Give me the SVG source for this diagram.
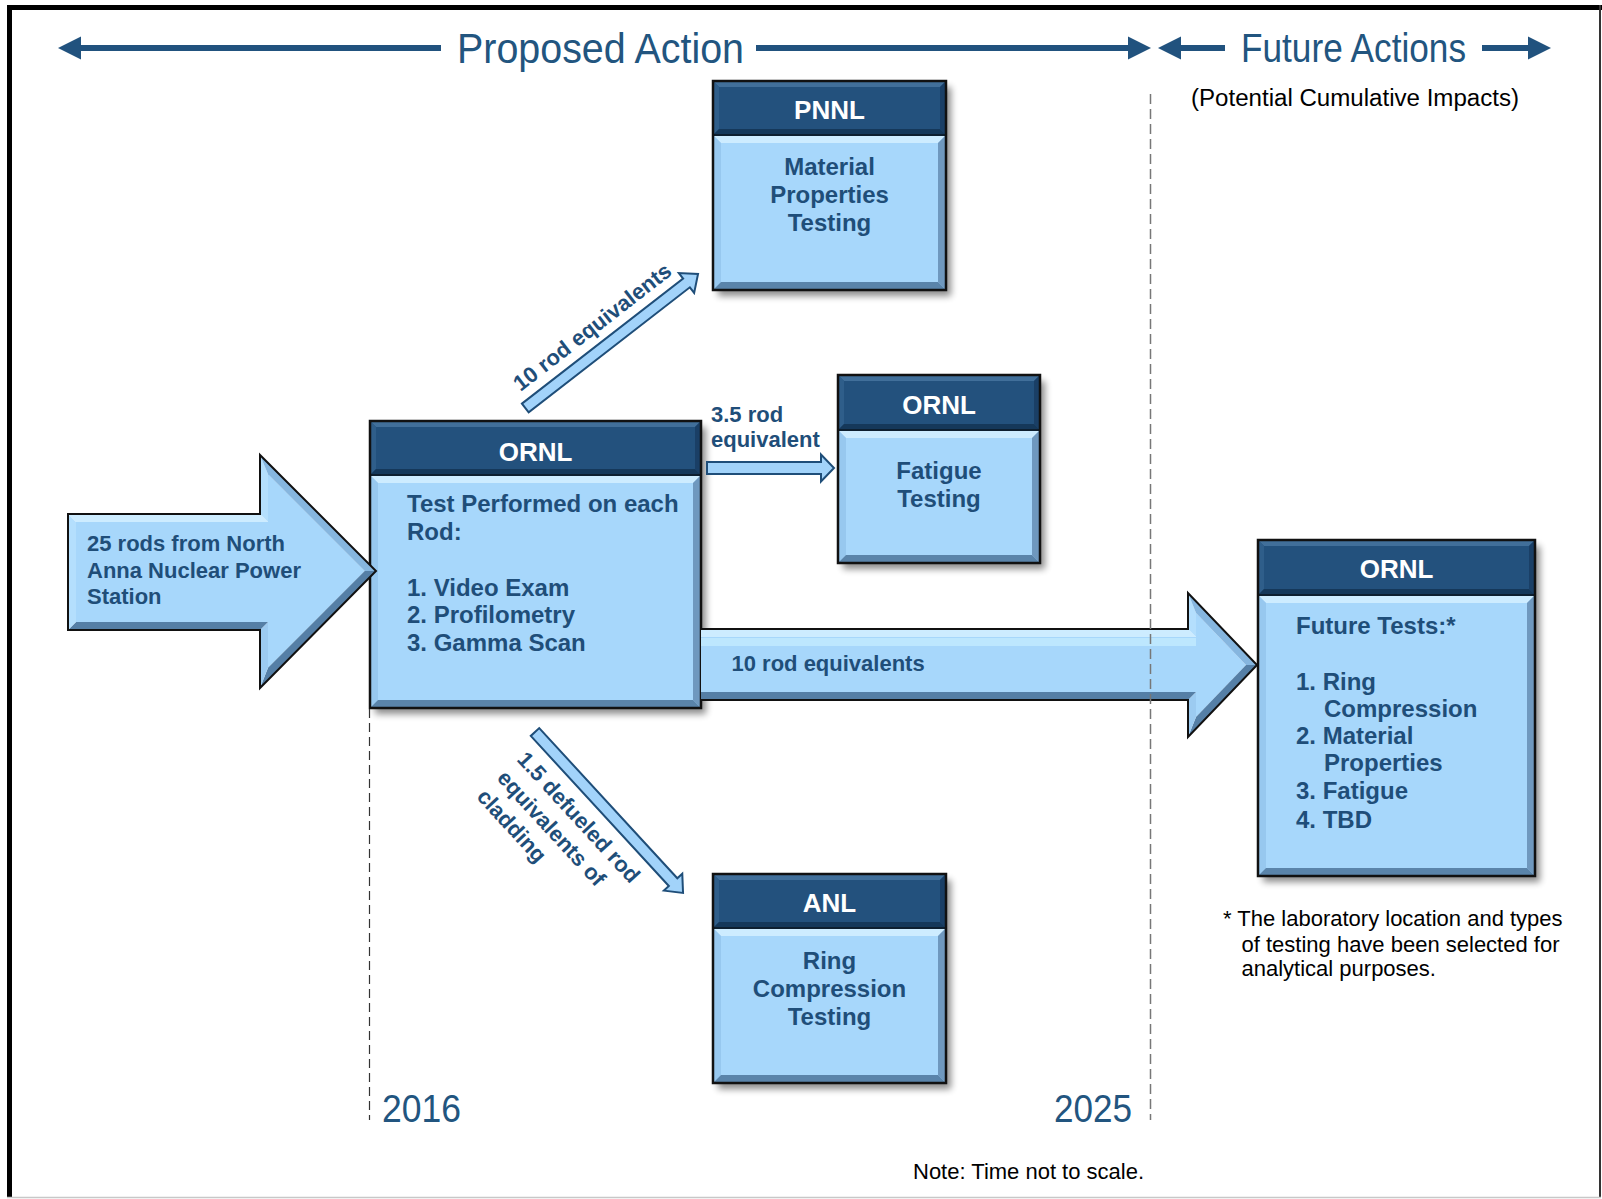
<svg xmlns="http://www.w3.org/2000/svg" width="1602" height="1199" viewBox="0 0 1602 1199">
  <defs>
    <filter id="soft" x="-10%" y="-10%" width="130%" height="130%">
      <feGaussianBlur stdDeviation="3.5"/>
    </filter>
    <style>
      text { font-family: "Liberation Sans", Arial, sans-serif; }
      .shadow { fill: #000; opacity: 0.45; }
      .hdr { fill: #23517d; }
      .body { fill: #a7d7fb; }
      .edge { fill: none; stroke: #111; stroke-width: 2.5; }
      .sep { stroke: #0d1f30; stroke-width: 2; }
      .ht { fill: #416f9a; }
      .hl { fill: #2f5e8a; }
      .hr { fill: #1a3f66; }
      .hb { fill: #15385a; }
      .bt { fill: #cdecff; }
      .bl { fill: #97c8ef; }
      .br { fill: #6f98be; }
      .bb { fill: #5a84aa; }
      .htxt { font-weight: bold; font-size: 26px; fill: #fff; text-anchor: middle; }
      .btxt { font-weight: bold; font-size: 24px; fill: #1f4e79; }
      .mid { text-anchor: middle; }
      .lbl { font-weight: bold; font-size: 22px; fill: #1f4e79; }
      .thin { fill: #a2d3fa; stroke: #1f4e79; stroke-width: 2; stroke-linejoin: miter; }
      .big { fill: #a7d7fb; }
      .bigedge { fill: none; stroke: #111; stroke-width: 2; stroke-linejoin: miter; }
      .f1 { fill: #cdecff; }
      .f2 { fill: #b4dffd; }
      .f3 { fill: #86b6df; }
      .f4 { fill: #557fa6; }
      .f5 { fill: #9ccbf1; }
      .title { fill: #22557f; }
      .tl { fill: #22557f; }
      .note { fill: #000; font-size: 22px; }
    </style>
  </defs>

  <rect x="0" y="0" width="1602" height="1199" fill="#fff"/>

  <!-- frame -->
  <g id="frame">
    <rect x="7" y="5" width="1595" height="5" fill="#000"/>
    <rect x="7" y="5" width="5" height="1193" fill="#000"/>
    <line x1="1600" y1="5" x2="1600" y2="1198" stroke="#333" stroke-width="2"/>
    <line x1="7" y1="1197.5" x2="1601" y2="1197.5" stroke="#c8c8c8" stroke-width="1.5"/>
  </g>

  <!-- time span banner -->
  <g id="banner">
    <g fill="#21527e">
      <rect x="80" y="45" width="361" height="6"/>
      <polygon points="58,48 81,36.5 81,59.5"/>
      <rect x="756" y="45" width="373" height="6"/>
      <polygon points="1151,48 1128,36.5 1128,59.5"/>
      <polygon points="1158,48 1181,36.5 1181,59.5"/>
      <rect x="1180" y="45" width="45" height="6"/>
      <rect x="1482" y="45" width="47" height="6"/>
      <polygon points="1551,48 1528,36.5 1528,59.5"/>
    </g>
    <text class="title" x="457" y="63" font-size="42" textLength="287" lengthAdjust="spacingAndGlyphs">Proposed Action</text>
    <text class="title" x="1241" y="62" font-size="41" textLength="225" lengthAdjust="spacingAndGlyphs">Future Actions</text>
    <text x="1191" y="105.5" font-size="23.5" fill="#000" textLength="328" lengthAdjust="spacingAndGlyphs">(Potential Cumulative Impacts)</text>
  </g>

  <!-- PNNL: material properties -->
  <g id="pnnl">
    <rect class="shadow" x="718" y="87" width="233" height="209" filter="url(#soft)"/>
    <rect class="hdr" x="713" y="81" width="233" height="54"/>
    <polygon class="ht" points="713,81 946,81 940,87 719,87"/>
    <polygon class="hl" points="713,81 719,87 719,129 713,135"/>
    <polygon class="hr" points="946,81 946,135 940,129 940,87"/>
    <polygon class="hb" points="713,135 719,129 940,129 946,135"/>
    <rect class="body" x="713" y="135" width="233" height="155"/>
    <polygon class="bt" points="713,135 946,135 938,143 721,143"/>
    <polygon class="bl" points="713,135 721,143 721,282 713,290"/>
    <polygon class="br" points="946,135 946,290 938,282 938,143"/>
    <polygon class="bb" points="713,290 721,282 938,282 946,290"/>
    <line class="sep" x1="713" y1="135" x2="946" y2="135"/>
    <rect class="edge" x="713" y="81" width="233" height="209"/>
    <text class="htxt" x="829.5" y="119">PNNL</text>
    <text class="btxt mid" x="829.5" y="175">Material</text>
    <text class="btxt mid" x="829.5" y="203">Properties</text>
    <text class="btxt mid" x="829.5" y="231">Testing</text>
  </g>

  <!-- ORNL: examinations on each rod -->
  <g id="ornl-exam">
    <rect class="shadow" x="375" y="427" width="331" height="287" filter="url(#soft)"/>
    <rect class="hdr" x="370" y="421" width="331" height="54"/>
    <polygon class="ht" points="370,421 701,421 695,427 376,427"/>
    <polygon class="hl" points="370,421 376,427 376,469 370,475"/>
    <polygon class="hr" points="701,421 701,475 695,469 695,427"/>
    <polygon class="hb" points="370,475 376,469 695,469 701,475"/>
    <rect class="body" x="370" y="475" width="331" height="233"/>
    <polygon class="bt" points="370,475 701,475 693,483 378,483"/>
    <polygon class="bl" points="370,475 378,483 378,700 370,708"/>
    <polygon class="br" points="701,475 701,708 693,700 693,483"/>
    <polygon class="bb" points="370,708 378,700 693,700 701,708"/>
    <line class="sep" x1="370" y1="475" x2="701" y2="475"/>
    <rect class="edge" x="370" y="421" width="331" height="287"/>
    <text class="htxt" x="535.5" y="460.5">ORNL</text>
    <text class="btxt" x="407" y="512">Test Performed on each</text>
    <text class="btxt" x="407" y="539.5">Rod:</text>
    <text class="btxt" x="407" y="595.5">1. Video Exam</text>
    <text class="btxt" x="407" y="623">2. Profilometry</text>
    <text class="btxt" x="407" y="650.5">3. Gamma Scan</text>
  </g>

  <!-- ORNL: fatigue -->
  <g id="ornl-fatigue">
    <rect class="shadow" x="843" y="381" width="202" height="188" filter="url(#soft)"/>
    <rect class="hdr" x="838" y="375" width="202" height="55"/>
    <polygon class="ht" points="838,375 1040,375 1034,381 844,381"/>
    <polygon class="hl" points="838,375 844,381 844,424 838,430"/>
    <polygon class="hr" points="1040,375 1040,430 1034,424 1034,381"/>
    <polygon class="hb" points="838,430 844,424 1034,424 1040,430"/>
    <rect class="body" x="838" y="430" width="202" height="133"/>
    <polygon class="bt" points="838,430 1040,430 1032,438 846,438"/>
    <polygon class="bl" points="838,430 846,438 846,555 838,563"/>
    <polygon class="br" points="1040,430 1040,563 1032,555 1032,438"/>
    <polygon class="bb" points="838,563 846,555 1032,555 1040,563"/>
    <line class="sep" x1="838" y1="430" x2="1040" y2="430"/>
    <rect class="edge" x="838" y="375" width="202" height="188"/>
    <text class="htxt" x="939" y="414">ORNL</text>
    <text class="btxt mid" x="939" y="479">Fatigue</text>
    <text class="btxt mid" x="939" y="507">Testing</text>
  </g>

  <!-- ANL: ring compression -->
  <g id="anl">
    <rect class="shadow" x="718" y="880" width="233" height="209" filter="url(#soft)"/>
    <rect class="hdr" x="713" y="874" width="233" height="54"/>
    <polygon class="ht" points="713,874 946,874 940,880 719,880"/>
    <polygon class="hl" points="713,874 719,880 719,922 713,928"/>
    <polygon class="hr" points="946,874 946,928 940,922 940,880"/>
    <polygon class="hb" points="713,928 719,922 940,922 946,928"/>
    <rect class="body" x="713" y="928" width="233" height="155"/>
    <polygon class="bt" points="713,928 946,928 938,936 721,936"/>
    <polygon class="bl" points="713,928 721,936 721,1075 713,1083"/>
    <polygon class="br" points="946,928 946,1083 938,1075 938,936"/>
    <polygon class="bb" points="713,1083 721,1075 938,1075 946,1083"/>
    <line class="sep" x1="713" y1="928" x2="946" y2="928"/>
    <rect class="edge" x="713" y="874" width="233" height="209"/>
    <text class="htxt" x="829.5" y="912">ANL</text>
    <text class="btxt mid" x="829.5" y="969">Ring</text>
    <text class="btxt mid" x="829.5" y="997">Compression</text>
    <text class="btxt mid" x="829.5" y="1025">Testing</text>
  </g>

  <!-- ORNL: future tests -->
  <g id="ornl-future">
    <rect class="shadow" x="1263" y="546" width="277" height="336" filter="url(#soft)"/>
    <rect class="hdr" x="1258" y="540" width="277" height="55"/>
    <polygon class="ht" points="1258,540 1535,540 1529,546 1264,546"/>
    <polygon class="hl" points="1258,540 1264,546 1264,589 1258,595"/>
    <polygon class="hr" points="1535,540 1535,595 1529,589 1529,546"/>
    <polygon class="hb" points="1258,595 1264,589 1529,589 1535,595"/>
    <rect class="body" x="1258" y="595" width="277" height="281"/>
    <polygon class="bt" points="1258,595 1535,595 1527,603 1266,603"/>
    <polygon class="bl" points="1258,595 1266,603 1266,868 1258,876"/>
    <polygon class="br" points="1535,595 1535,876 1527,868 1527,603"/>
    <polygon class="bb" points="1258,876 1266,868 1527,868 1535,876"/>
    <line class="sep" x1="1258" y1="595" x2="1535" y2="595"/>
    <rect class="edge" x="1258" y="540" width="277" height="336"/>
    <text class="htxt" x="1396.5" y="578">ORNL</text>
    <text class="btxt" x="1296" y="633.5">Future Tests:*</text>
    <text class="btxt" x="1296" y="689.5">1. Ring</text>
    <text class="btxt" x="1324" y="716.5">Compression</text>
    <text class="btxt" x="1296" y="744">2. Material</text>
    <text class="btxt" x="1324" y="771">Properties</text>
    <text class="btxt" x="1296" y="799">3. Fatigue</text>
    <text class="btxt" x="1296" y="827.5">4. TBD</text>
  </g>

  <!-- rods flowing between laboratories -->
  <g id="connectors">
    <!-- incoming rods (block arrow) -->
    <g id="source-arrow">
      <polygon class="big" points="76,522 268,522 268,474.3 364.7,571 268,667.7 268,622 76,622"/>
      <polygon class="f1" points="68,514 260,514 268,522 76,522"/>
      <polygon class="f2" points="260,514 260,455 268,474.3 268,522"/>
      <polygon class="f3" points="260,455 376,571 364.7,571 268,474.3"/>
      <polygon class="f4" points="376,571 260,688 268,667.7 364.7,571"/>
      <polygon class="f5" points="260,688 260,630 268,622 268,667.7"/>
      <polygon class="f4" points="260,630 68,630 76,622 268,622"/>
      <polygon class="f2" points="68,630 68,514 76,522 76,622"/>
      <polygon class="bigedge" points="68,514 260,514 260,455 376,571 260,688 260,630 68,630"/>
      <text class="lbl" x="87" y="551">25 rods from North</text>
      <text class="lbl" x="87" y="577.5">Anna Nuclear Power</text>
      <text class="lbl" x="87" y="604">Station</text>
    </g>

    <!-- rods kept for future tests (block arrow) -->
    <g id="future-arrow">
      <polygon class="big" points="701,637 1196,637 1196,613 1246,665 1196,717 1196,692 701,692"/>
      <polygon class="f1" points="701,629 1188,629 1196,637 701,637"/>
      <rect x="701" y="638" width="495" height="8" fill="#c6eeff" opacity="0.7"/>
      <polygon class="f2" points="1188,629 1188,593 1196,613 1196,637"/>
      <polygon class="f3" points="1188,593 1257,665 1246,665 1196,613"/>
      <polygon class="f4" points="1257,665 1188,737 1196,717 1246,665"/>
      <polygon class="f5" points="1188,737 1188,700 1196,692 1196,717"/>
      <polygon class="f4" points="1188,700 701,700 701,692 1196,692"/>
      <polyline class="bigedge" points="701,629 1188,629 1188,593 1257,665 1188,737 1188,700 701,700"/>
      <text class="lbl" x="731.5" y="671">10 rod equivalents</text>
    </g>

    <!-- to PNNL -->
    <g transform="translate(525.3,408) rotate(-37.8)">
      <polygon class="thin" points="0,-5.5 204,-5.5 204,-12.5 218.6,0 204,12.5 204,5.5 0,5.5"/>
      <text class="lbl" x="6" y="-15.5">10 rod equivalents</text>
    </g>

    <!-- to ORNL fatigue -->
    <polygon class="thin" points="707,462 821,462 821,454.5 834,468 821,481.5 821,474 707,474"/>
    <text class="lbl" x="711" y="422">3.5 rod</text>
    <text class="lbl" x="711" y="447">equivalent</text>

    <!-- to ANL -->
    <g transform="translate(535,732) rotate(47.4)">
      <polygon class="thin" points="0,-5.75 204,-5.75 204,-12.5 218.7,0 204,12.5 204,5.75 0,5.75"/>
      <text class="lbl" x="8" y="33">1.5 defueled rod</text>
      <text class="lbl" x="8" y="60.5">equivalents of</text>
      <text class="lbl" x="8" y="88">cladding</text>
    </g>
  </g>

  <!-- timeline markers -->
  <g id="timeline">
    <line x1="369.5" y1="709" x2="369.5" y2="1120" stroke="#333" stroke-width="1.2" stroke-dasharray="9 5"/>
    <line x1="1150.5" y1="94" x2="1150.5" y2="1120" stroke="#777" stroke-width="1.5" stroke-dasharray="10 5"/>
    <text class="tl" x="382" y="1122" font-size="39" textLength="79" lengthAdjust="spacingAndGlyphs">2016</text>
    <text class="tl" x="1054" y="1122" font-size="39" textLength="78" lengthAdjust="spacingAndGlyphs">2025</text>
  </g>

  <!-- notes -->
  <g id="notes">
    <text class="note" x="1223" y="926">* The laboratory location and types</text>
    <text class="note" x="1241.5" y="951.5">of testing have been selected for</text>
    <text class="note" x="1241.5" y="976">analytical purposes.</text>
    <text class="note" x="913" y="1179" font-size="21.5" textLength="231" lengthAdjust="spacingAndGlyphs">Note: Time not to scale.</text>
  </g>
</svg>
